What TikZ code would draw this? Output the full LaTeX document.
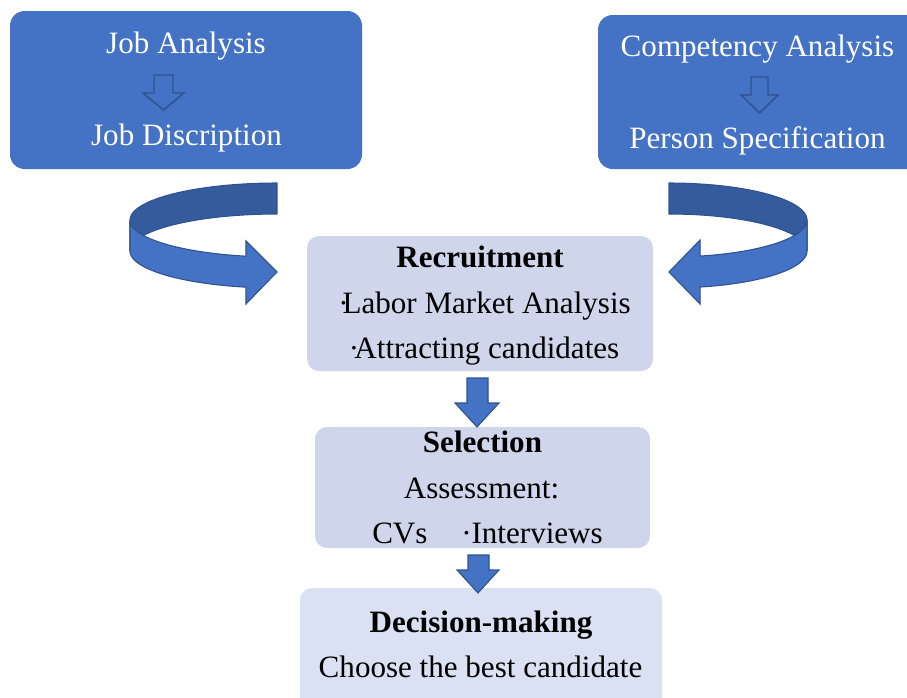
\documentclass[tikz,border=0pt]{standalone}
\usepackage{fontspec}
\setmainfont{Liberation Serif}
\definecolor{boxblue}{HTML}{4472C4}
\definecolor{ribdark}{HTML}{345B9C}
\definecolor{arrline}{HTML}{2F528F}
\definecolor{lightbox}{HTML}{CFD5EA}
\definecolor{lightbox2}{HTML}{D9E1F2}
\begin{document}
\begin{tikzpicture}[x=0.75pt,y=-0.75pt,
  font=\fontsize{23.3}{28}\selectfont,
  bluebox/.style={fill=boxblue, rounded corners=11pt},
  palebox/.style={fill=lightbox, rounded corners=9pt},
  palebox2/.style={fill=lightbox2, rounded corners=9pt},
  wtxt/.style={text=white, inner sep=0pt, anchor=base},
  btxt/.style={text=black, inner sep=0pt, anchor=base},
  hollow/.style={draw=arrline, line width=1.1pt, line join=miter},
  solidarr/.style={fill=boxblue, draw=arrline, line width=0.8pt, line join=miter},
  ribback/.style={fill=ribdark, draw=arrline, line width=0.8pt, line join=round},
  ribfront/.style={fill=boxblue, draw=arrline, line width=0.8pt, line join=miter}]
\useasboundingbox (0,0) rectangle (907,697);
\clip (0,0) rectangle (907,697);

% top boxes
\path[bluebox] (10,11) rectangle (362,169);
\path[bluebox] (598,15) rectangle (930,169);

\node[wtxt] (ja) at (186,53) {Job Analysis};
\node[wtxt] (jd) at (186.5,145) {Job Discription};
\draw[hollow] (154,75) -- (173,75) -- (173,93) -- (184,93) -- (163.5,110) -- (143,93) -- (154,93) -- cycle;

\node[wtxt] (ca) at (757.5,56) {Competency Analysis};
\node[wtxt] (ps) at (757.5,148) {Person Specification};
\draw[hollow] (751,77) -- (768,77) -- (768,95) -- (778,95) -- (759.5,113) -- (741,95) -- (751,95) -- cycle;

% pale boxes
\path[palebox] (307,236) rectangle (653,371);
\path[palebox] (315,427) rectangle (650,548);
\path[palebox2] (300,588) rectangle (662,720);

\node[btxt] (rec) at (480,267) {\textbf{Recruitment}};
\node[btxt] (lma) at (484.5,313) {·\kern-4.5pt Labor Market Analysis};
\node[btxt] (att) at (484,358) {·\kern-3.5pt Attracting candidates};

\node[btxt] (sel) at (482.5,452) {\textbf{Selection}};
\node[btxt] (ass) at (481.5,498) {Assessment:};
\node[btxt, anchor=base west] (cvs) at (372,543) {CVs};
\node[btxt, anchor=base west] (int) at (461,543) {·Interviews};

\node[btxt] (dec) at (481,632) {\textbf{Decision-making}};
\node[btxt] (cho) at (480.5,677) {Choose the best candidate};

% solid down arrows
\draw[solidarr] (467,378) -- (488,378) -- (488,403) -- (499,403) -- (477,427) -- (455,403) -- (467,403) -- cycle;
\draw[solidarr] (468,555) -- (489,555) -- (489,570) -- (499,570) -- (478,593) -- (457,570) -- (468,570) -- cycle;

% left curved ribbon arrow
\draw[ribback] plot[domain=270:180, samples=40] ({277+147*cos(\x)},{220+37*sin(\x)})
  -- plot[domain=180:270, samples=40] ({277+147*cos(\x)},{251+37*sin(\x)}) -- cycle;
\draw[ribfront] plot[domain=180:102.2, samples=40] ({277+147*cos(\x)},{220+37*sin(\x)})
  -- (246,241) -- (277,272) -- (246,304)
  -- plot[domain=102.2:180, samples=40] ({277+147*cos(\x)},{251+37*sin(\x)}) -- cycle;

% right curved ribbon arrow
\draw[ribback] plot[domain=270:360, samples=40] ({669+138*cos(\x)},{220+37*sin(\x)})
  -- plot[domain=360:270, samples=40] ({669+138*cos(\x)},{251+37*sin(\x)}) -- cycle;
\draw[ribfront] plot[domain=0:77, samples=40] ({669+138*cos(\x)},{220+37*sin(\x)})
  -- (700,240) -- (669,272) -- (700,304)
  -- plot[domain=77:0, samples=40] ({669+138*cos(\x)},{251+37*sin(\x)}) -- cycle;
\end{tikzpicture}
\end{document}
